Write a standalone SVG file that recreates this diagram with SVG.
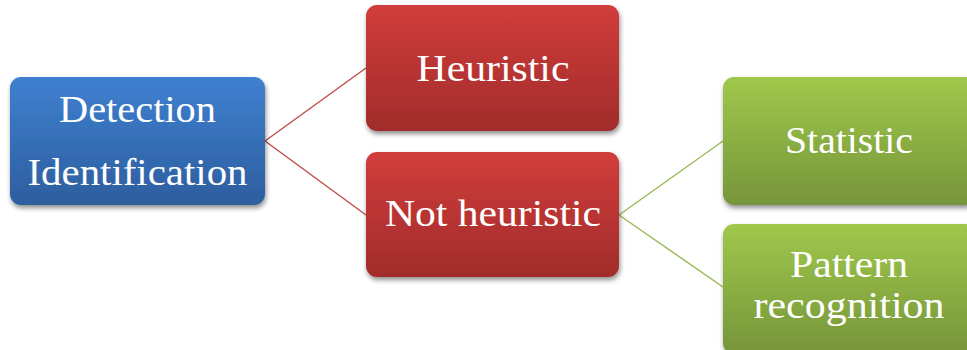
<svg xmlns="http://www.w3.org/2000/svg" width="967" height="350" viewBox="0 0 967 350">
  <defs>
    <linearGradient id="gBlue" x1="0" y1="0" x2="0" y2="1">
      <stop offset="0" stop-color="#3f80d0"/>
      <stop offset="1" stop-color="#2d5e9e"/>
    </linearGradient>
    <linearGradient id="gRed" x1="0" y1="0" x2="0" y2="1">
      <stop offset="0" stop-color="#d13d3b"/>
      <stop offset="1" stop-color="#a12c2a"/>
    </linearGradient>
    <linearGradient id="gGreen" x1="0" y1="0" x2="0" y2="1">
      <stop offset="0" stop-color="#9fc84b"/>
      <stop offset="1" stop-color="#76953a"/>
    </linearGradient>
    <filter id="shadow" x="-10%" y="-10%" width="125%" height="130%">
      <feGaussianBlur in="SourceAlpha" stdDeviation="2.5"/>
      <feOffset dx="1" dy="3" result="b"/>
      <feComponentTransfer><feFuncA type="linear" slope="0.45"/></feComponentTransfer>
      <feMerge><feMergeNode/><feMergeNode in="SourceGraphic"/></feMerge>
    </filter>
  </defs>
  <style>
    .box { filter: url(#shadow); }
    .lbl { font-family: "Liberation Serif", "DejaVu Serif", serif; font-size: 38px; fill: #ffffff; text-anchor: middle; }
    .cr { stroke: #c0504d; stroke-width: 1.5; fill: none; }
    .cg { stroke: #9bbb59; stroke-width: 1.5; fill: none; }
  </style>

  <g id="connectors">
    <path class="cr" d="M265,141 L366,68"/>
    <path class="cr" d="M265,141 L366,215"/>
    <path class="cg" d="M619,215 L723,141"/>
    <path class="cg" d="M619,215 L723,287"/>
  </g>

  <g id="detection">
    <rect class="box" x="10" y="77" width="255" height="128" rx="11" fill="url(#gBlue)"/>
    <text class="lbl" x="137.5" y="122" textLength="157" lengthAdjust="spacingAndGlyphs">Detection</text>
    <text class="lbl" x="137.5" y="185" textLength="220" lengthAdjust="spacingAndGlyphs">Identification</text>
  </g>

  <g id="heuristic">
    <rect class="box" x="366" y="5" width="253" height="126" rx="11" fill="url(#gRed)"/>
    <text class="lbl" x="493" y="81" textLength="153" lengthAdjust="spacingAndGlyphs">Heuristic</text>
  </g>

  <g id="not-heuristic">
    <rect class="box" x="366" y="152" width="253" height="125" rx="11" fill="url(#gRed)"/>
    <text class="lbl" x="493" y="226" textLength="216" lengthAdjust="spacingAndGlyphs">Not heuristic</text>
  </g>

  <g id="statistic">
    <rect class="box" x="723" y="77" width="253" height="128" rx="11" fill="url(#gGreen)"/>
    <text class="lbl" x="849" y="153" textLength="128" lengthAdjust="spacingAndGlyphs">Statistic</text>
  </g>

  <g id="pattern-recognition">
    <rect class="box" x="723" y="224" width="253" height="130" rx="11" fill="url(#gGreen)"/>
    <text class="lbl" x="849" y="277" textLength="118" lengthAdjust="spacingAndGlyphs">Pattern</text>
    <text class="lbl" x="849" y="318" textLength="191" lengthAdjust="spacingAndGlyphs">recognition</text>
  </g>
</svg>
